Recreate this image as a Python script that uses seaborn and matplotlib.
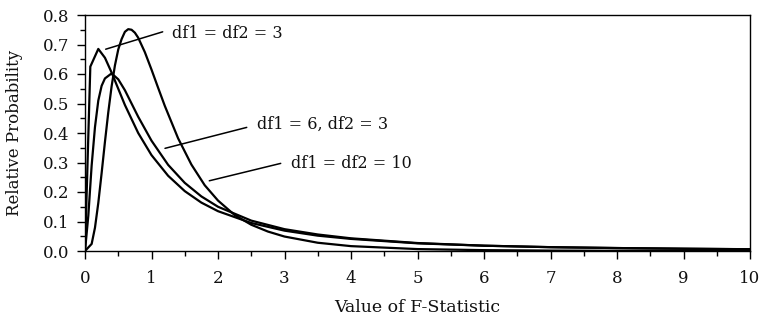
import numpy as np
import pandas as pd
import seaborn as sns
import matplotlib
matplotlib.use("Agg")
import matplotlib.pyplot as plt
from matplotlib.ticker import MultipleLocator, FormatStrFormatter

# ---- data ----
x_3_3 = [0, 0.08, 0.2, 0.3, 0.4, 0.5, 0.6, 0.8, 1.0, 1.25, 1.5, 1.75, 2.0, 2.5, 3.0, 3.5, 4.0, 5.0, 6.0, 7.0, 8.0, 9.0, 10.0]
y_3_3 = [0, 0.625, 0.685, 0.655, 0.605, 0.55, 0.495, 0.40, 0.325, 0.255, 0.203, 0.164, 0.135, 0.095, 0.069, 0.052, 0.041, 0.026, 0.018, 0.013, 0.010, 0.008, 0.006]

x_6_3 = [0, 0.05, 0.1, 0.15, 0.2, 0.25, 0.3, 0.4, 0.5, 0.6, 0.7, 0.8, 1.0, 1.25, 1.5, 1.75, 2.0, 2.5, 3.0, 3.5, 4.0, 5.0, 6.0, 7.0, 8.0, 9.0, 10.0]
y_6_3 = [0, 0.12, 0.29, 0.42, 0.51, 0.56, 0.585, 0.602, 0.582, 0.545, 0.500, 0.455, 0.374, 0.292, 0.231, 0.185, 0.150, 0.103, 0.074, 0.056, 0.043, 0.027, 0.018, 0.013, 0.010, 0.0075, 0.006]

x_10_10 = [0, 0.1, 0.15, 0.2, 0.25, 0.3, 0.35, 0.4, 0.45, 0.5, 0.55, 0.6, 0.65, 0.7, 0.75, 0.8, 0.9, 1.0, 1.1, 1.2, 1.4, 1.6, 1.8, 2.0, 2.25, 2.5, 2.75, 3.0, 3.5, 4.0, 5.0, 6.0, 7.0, 8.0, 10.0]
y_10_10 = [0, 0.024, 0.079, 0.163, 0.264, 0.370, 0.470, 0.558, 0.629, 0.683, 0.718, 0.743, 0.752, 0.750, 0.740, 0.723, 0.674, 0.615, 0.553, 0.492, 0.382, 0.293, 0.223, 0.171, 0.122, 0.089, 0.066, 0.049, 0.028, 0.0165, 0.0065, 0.0029, 0.0014, 0.0007, 0.0002]

labels = ["df1 = df2 = 3", "df1 = 6, df2 = 3", "df1 = df2 = 10"]
# leader line start (on curve), leader line end, text anchor (left, baseline)
leader_start = [(0.311, 0.684), (1.203, 0.348), (1.869, 0.238)]
leader_end = [(1.168, 0.743), (2.432, 0.419), (2.943, 0.297)]
text_pos = [(1.308, 0.723), (2.591, 0.4125), (3.098, 0.280)]

x_ticks = list(range(0, 11))
y_ticks = [0.0, 0.1, 0.2, 0.3, 0.4, 0.5, 0.6, 0.7, 0.8]

df = pd.concat([
    pd.DataFrame({"x": x_3_3, "y": y_3_3, "curve": labels[0]}),
    pd.DataFrame({"x": x_6_3, "y": y_6_3, "curve": labels[1]}),
    pd.DataFrame({"x": x_10_10, "y": y_10_10, "curve": labels[2]}),
], ignore_index=True)

sns.set_theme(style="ticks")
plt.rcParams["font.family"] = ["DejaVu Serif"]

fig = plt.figure(figsize=(7.61, 3.23), dpi=100)
ax = fig.add_axes([85 / 761, 72 / 323, 665 / 761, 236 / 323])

sns.lineplot(data=df, x="x", y="y", units="curve", estimator=None, sort=False,
             color="black", linewidth=1.6, ax=ax, legend=False)

for (x0, y0), (x1, y1), (tx, ty), lab in zip(leader_start, leader_end, text_pos, labels):
    ax.plot([x0, x1], [y0, y1], color="black", linewidth=1.1)
    ax.text(tx, ty, lab, ha="left", va="baseline", fontsize=11.5, color="#111111")

ax.set_xlim(0, 10)
ax.set_ylim(0, 0.8)
ax.set_xticks(x_ticks)
ax.set_yticks(y_ticks)
ax.xaxis.set_minor_locator(MultipleLocator(0.5))
ax.yaxis.set_minor_locator(MultipleLocator(0.05))
ax.yaxis.set_major_formatter(FormatStrFormatter("%.1f"))

for s in ax.spines.values():
    s.set_visible(True)
    s.set_color("black")
    s.set_linewidth(1.0)

ax.tick_params(axis="both", which="major", direction="out", length=5.5, width=1.0,
               color="black", labelsize=12, labelcolor="#111111")
ax.tick_params(axis="both", which="minor", direction="out", length=3.5, width=1.0, color="black")
ax.tick_params(axis="x", which="major", pad=8)
ax.tick_params(axis="y", which="major", pad=6)

ax.set_xlabel("Value of F-Statistic", fontsize=12.5, color="#111111", labelpad=9)
ax.set_ylabel("Relative Probability", fontsize=12, color="#111111", labelpad=14)
ax.grid(False)

fig.savefig("out.png", dpi=100)
